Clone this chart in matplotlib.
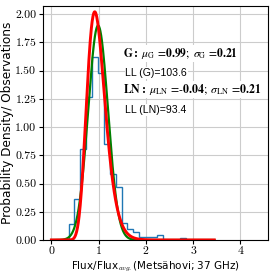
import numpy as np
import matplotlib
matplotlib.use("Agg")
import matplotlib.pyplot as plt

plt.rcParams['mathtext.fontset'] = 'cm'

# histogram of Flux/Flux_avg (density)
bin_start = 0.366
bin_width = 0.1245
hist_heights = [0.14, 0.36, 0.81, 1.27, 1.62, 1.48, 0.85, 0.58, 0.47, 0.15,
                0.10, 0.075, 0.027, 0.027, 0.027, 0.04, 0.0, 0.0, 0.0, 0.015,
                0.0]
hist_edges = bin_start + bin_width * np.arange(len(hist_heights) + 1)

# fitted parameters
mu_g, sigma_g = 0.99, 0.21
mu_ln, sigma_ln = -0.04, 0.21
ll_g, ll_ln = 103.6, 93.4
x_max_fit = 3.45

x = np.linspace(0.001, x_max_fit, 600)
gauss = np.exp(-(x - mu_g) ** 2 / (2 * sigma_g ** 2)) / (sigma_g * np.sqrt(2 * np.pi))
lognorm = np.exp(-(np.log(x) - mu_ln) ** 2 / (2 * sigma_ln ** 2)) / (x * sigma_ln * np.sqrt(2 * np.pi))

fig = plt.figure(figsize=(2.74, 2.73), dpi=100)
ax = fig.add_axes([0.158, 0.121, 0.819, 0.858])

ax.stairs(hist_heights, hist_edges, color='tab:blue', linewidth=1.0)
ax.plot(x, gauss, color='green', linewidth=1.6)
ax.plot(x, lognorm, color='red', linewidth=2.1)

ax.set_xlim(-0.17, 4.58)
ax.set_ylim(0, 2.075)
ax.set_xticks([0, 1, 2, 3, 4])
ax.set_yticks([0, 0.25, 0.5, 0.75, 1.0, 1.25, 1.5, 1.75, 2.0])
ax.set_yticklabels(['%.2f' % v for v in ax.get_yticks()])
for lab in ax.get_xticklabels() + ax.get_yticklabels():
    lab.set_fontfamily('cmr10')
    lab.set_fontsize(8.5)
ax.tick_params(length=3, width=0.8, pad=2)
ax.grid(True, color='#cccccc', linewidth=0.8)
ax.set_axisbelow(True)

ax.set_xlabel(r'Flux/Flux$_{avg.}$(Metsähovi; 37 GHz)', fontsize=7.5, labelpad=2)
ax.set_ylabel('Probability Density/ Observations', fontsize=8.7, labelpad=1)

box = dict(facecolor='white', edgecolor='none', pad=0.5)
line_g = (r'$\mathbf{G:}\ \mu_{\mathrm{G}}\,=\!\mathbf{%.2f};\ \sigma_{\mathrm{G}}\,=\!\mathbf{%.2f}$'
          % (mu_g, sigma_g))
line_ln = (r'$\mathbf{LN:}\ \mu_{\mathrm{LN}}\,=\!\mathbf{%.2f};\ \sigma_{\mathrm{LN}}\,=\!\mathbf{%.2f}$'
           % (mu_ln, sigma_ln)).replace('-', r'\text{-}')
ax.text(1.52, 1.653, line_g, fontsize=8.3, va='center', ha='left', bbox=box,
        math_fontfamily='stix')
ax.text(1.57, 1.481, 'LL (G)=%.1f' % ll_g, fontsize=7.6, family='Liberation Sans',
        va='center', ha='left', bbox=box)
ax.text(1.52, 1.334, line_ln, fontsize=8.5, va='center', ha='left', bbox=box,
        math_fontfamily='stix')
ax.text(1.57, 1.15, 'LL (LN)=%.1f' % ll_ln, fontsize=7.6, family='Liberation Sans',
        va='center', ha='left', bbox=box)

fig.savefig('out.png', dpi=100)
